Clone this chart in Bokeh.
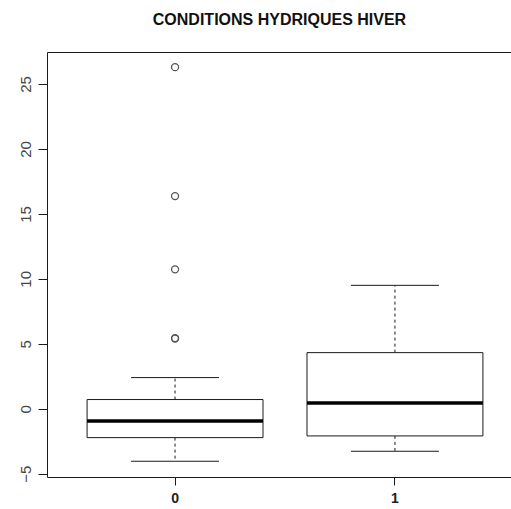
from bokeh.plotting import figure
from bokeh.models import FixedTicker, LinearAxis, Range1d
from bokeh.embed import file_html
from bokeh.resources import INLINE

# Five-number summaries per group (lower whisker, Q1, median, Q3, upper whisker)
groups = ["0", "1"]
positions = [1, 2]
lower_whisker = [-4.0, -3.23]
q1 = [-2.18, -2.05]
median = [-0.90, 0.48]
q3 = [0.75, 4.36]
upper_whisker = [2.44, 9.54]

# Outliers (all in group "0")
outlier_group = [1, 1, 1, 1, 1]
outlier_values = [26.33, 16.41, 10.77, 5.44, 5.48]

y_ticks = [-5, 0, 5, 10, 15, 20, 25]
title_text = "CONDITIONS HYDRIQUES HIVER"

BOX_HALF = 0.4
CAP_HALF = 0.2
INK = "#1a1a1a"
Y_MIN, Y_MAX = -5.25, 27.46

p = figure(
    width=511, height=509,
    output_backend="svg", toolbar_location=None,
    x_range=Range1d(0.42, 2.53), y_range=Range1d(Y_MIN, Y_MAX),
    min_border_left=47, min_border_right=0, min_border_top=52, min_border_bottom=32,
    x_axis_location=None, y_axis_location=None,
)
p.title = None
p.outline_line_color = None
p.xgrid.visible = False
p.ygrid.visible = False
p.background_fill_color = "white"
p.border_fill_color = "white"

# Bottom axis with group labels
xaxis = LinearAxis(ticker=FixedTicker(ticks=positions),
                   major_label_overrides={pos: g for pos, g in zip(positions, groups)})
xaxis.axis_line_color = INK
xaxis.major_tick_line_color = INK
xaxis.major_tick_in = 0
xaxis.major_tick_out = 8
xaxis.minor_tick_line_color = None
xaxis.major_label_text_font = "Liberation Sans"
xaxis.major_label_text_font_size = "14px"
xaxis.major_label_text_font_style = "bold"
xaxis.major_label_text_color = "#222222"
xaxis.major_label_standoff = 7
p.add_layout(xaxis, "below")

# Left axis with vertical labels
yaxis = LinearAxis(ticker=FixedTicker(ticks=y_ticks))
yaxis.axis_line_color = INK
yaxis.major_tick_line_color = INK
yaxis.major_tick_in = 0
yaxis.major_tick_out = 9
yaxis.minor_tick_line_color = None
yaxis.major_label_orientation = "vertical"
yaxis.major_label_text_font = "Liberation Sans"
yaxis.major_label_text_font_size = "15px"
yaxis.major_label_text_color = "#444444"
yaxis.major_label_standoff = 7
p.add_layout(yaxis, "left")

# Top frame line, carrying the chart title as its label
top = LinearAxis(ticker=FixedTicker(ticks=[]))
top.axis_line_color = INK
top.major_tick_line_color = None
top.minor_tick_line_color = None
top.major_label_text_font_size = "0px"
top.axis_label = title_text
top.axis_label_text_font = "Liberation Sans"
top.axis_label_text_font_size = "16px"
top.axis_label_text_font_style = "bold"
top.axis_label_text_color = "#111111"
top.axis_label_standoff = 25
p.add_layout(top, "above")

# Whiskers (dashed) and caps
p.segment(x0=positions, y0=q3, x1=positions, y1=upper_whisker,
          line_color=INK, line_width=1, line_dash="3 3")
p.segment(x0=positions, y0=q1, x1=positions, y1=lower_whisker,
          line_color=INK, line_width=1, line_dash="3 3")
p.segment(x0=[x - CAP_HALF for x in positions], y0=upper_whisker,
          x1=[x + CAP_HALF for x in positions], y1=upper_whisker,
          line_color=INK, line_width=1)
p.segment(x0=[x - CAP_HALF for x in positions], y0=lower_whisker,
          x1=[x + CAP_HALF for x in positions], y1=lower_whisker,
          line_color=INK, line_width=1)

# Boxes
p.quad(left=[x - BOX_HALF for x in positions], right=[x + BOX_HALF for x in positions],
       bottom=q1, top=q3, fill_color="white", line_color=INK, line_width=1)

# Medians
p.segment(x0=[x - BOX_HALF for x in positions], y0=median,
          x1=[x + BOX_HALF for x in positions], y1=median,
          line_color="black", line_width=3.5)

# Outliers
p.scatter(x=outlier_group, y=outlier_values, marker="circle", size=7,
          fill_color=None, line_color="#555555", line_width=1.3)

open("out.html", "w").write(file_html(p, INLINE))
